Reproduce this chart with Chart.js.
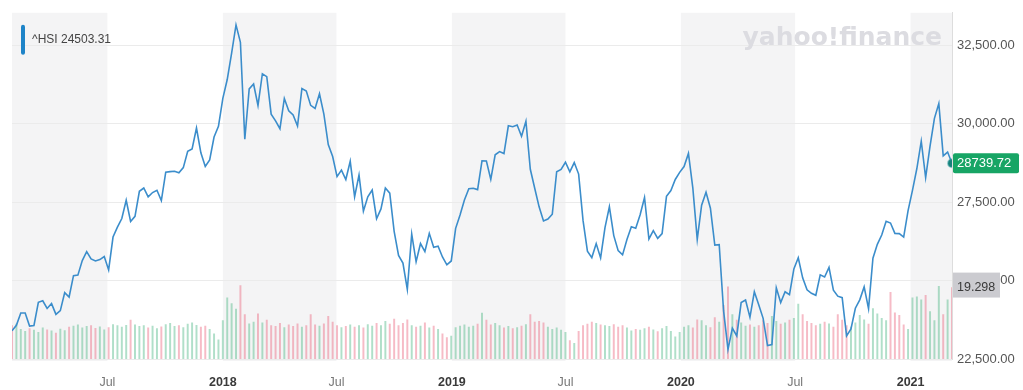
<!DOCTYPE html>
<html>
<head>
<meta charset="utf-8">
<script src="https://cdn.jsdelivr.net/npm/chart.js@4.4.1/dist/chart.umd.min.js"></script>
<style>
  html, body { margin: 0; padding: 0; background: #ffffff; }
  #wrap { width: 1023px; height: 390px; position: relative; }
</style>
</head>
<body>
<div id="wrap"><canvas id="c" width="1023" height="390"></canvas></div>
<script>
// ---- data (weekly, Monday-dated, Yahoo style) ----
const firstWeek = '2017-01-30';
const priorClose = 23600;

const close2017 = [23400, 23574, 23965, 23965, 23552, 23568, 24309, 24358, 24111, 24267,
  23924, 24042, 24615, 24476, 25156, 25174, 25639, 25924, 25690, 25626,
  25670, 25765, 25341, 26389, 26706, 26979, 27563, 26884, 27048, 27848,
  27953, 27668, 27808, 27880, 27554, 28458, 28476, 28487, 28439, 28603,
  29120, 29199, 29866, 29074, 28640, 28848, 29578, 29919];
const close2018 = [30814, 31412, 32254, 33154, 32601, 29507, 31115, 31268, 30583, 31596,
  31502, 30309, 30093, 29844, 30809, 30418, 30281, 29927, 31122, 31048,
  30588, 30492, 30958, 30309, 29339, 28955, 28316, 28525, 28224, 28804,
  27676, 28367, 27213, 27672, 27888, 26973, 27286, 27953, 27788, 26572,
  25801, 25561, 24717, 26486, 25601, 26183, 25927, 26506, 26063, 26094,
  25753, 25504];
const close2019 = [25626, 26667, 27090, 27569, 27930, 27946, 27901, 28816, 28812, 28228,
  29012, 29113, 29051, 29936, 29909, 29963, 29605, 30082, 28550, 27946,
  27353, 26901, 26965, 27118, 28473, 28543, 28775, 28471, 28765, 28397,
  26919, 25939, 25734, 26179, 25725, 26691, 27353, 26435, 25955, 25821,
  26308, 26720, 26667, 27100, 27651, 26327, 26595, 26346, 26498, 27688,
  27871, 28225];
const close2020 = [28452, 28638, 29056, 27950, 26313, 27404, 27815, 27309, 26130, 26146,
  24032, 22805, 23484, 23236, 24300, 24380, 23831, 24644, 24230, 23797,
  22930, 22961, 24770, 24301, 24644, 24549, 25373, 25727, 25089, 24705,
  24595, 24532, 25183, 25114, 25422, 24696, 24503, 24455, 23235, 23459,
  24119, 24387, 24800, 24107, 25712, 26157, 26452, 26894, 26836, 26506,
  26498, 26387, 27231];
const close2021 = [27878, 28574, 29447, 28284, 29289, 30173, 30645, 28980, 29099, 28739.72];

const vol2017 = [9.0, 9.4, 8.0, 7.5, 8.2, 7.8, 7.2, 8.4, 7.9, 7.6,
  7.0, 8.1, 7.7, 8.6, 8.9, 9.2, 8.4, 8.8, 9.0, 8.3,
  8.7, 7.9, 8.5, 9.3, 9.0, 8.6, 9.1, 10.5, 9.2, 8.8,
  9.0, 8.4, 8.9, 8.2, 8.7, 9.3, 9.6, 8.8, 9.0, 8.5,
  9.4, 9.8, 9.1, 8.6, 8.9, 8.0, 6.8, 5.2];
const vol2018 = [10.4, 16.5, 15.0, 13.5, 19.8, 12.0, 9.5, 10.0, 12.2, 9.8,
  10.5, 9.0, 8.8, 9.6, 8.5, 9.2, 8.8, 9.5, 8.6, 9.0,
  12.0, 9.2, 8.9, 9.5, 11.5, 10.0, 9.0, 8.5, 8.8, 9.2,
  8.6, 9.0, 8.4, 9.3, 8.9, 9.6, 9.0, 10.2, 9.4, 10.8,
  9.0, 9.6, 10.6, 9.0, 8.6, 8.9, 9.8, 8.4, 8.9, 8.0,
  6.8, 5.8];
const vol2019 = [6.2, 8.5, 8.9, 9.2, 8.6, 8.9, 9.4, 12.4, 10.5, 9.2,
  9.6, 9.0, 8.4, 8.8, 8.2, 8.5, 8.9, 9.3, 12.0, 10.0,
  10.2, 9.8, 8.6, 8.0, 8.4, 7.8, 7.2, 5.0, 4.2, 7.5,
  9.0, 9.4, 10.0, 9.6, 9.2, 9.0, 8.8, 9.3, 8.6, 9.0,
  8.4, 7.6, 8.0, 7.8, 8.2, 8.6, 7.9, 7.4, 8.2, 8.8,
  7.5, 6.0];
const vol2020 = [7.2, 8.6, 9.0, 8.4, 10.6, 10.4, 9.0, 8.5, 11.2, 10.0,
  14.5, 19.5, 12.0, 10.5, 9.8, 8.9, 9.2, 8.6, 9.0, 10.4,
  9.6, 11.5, 10.2, 9.4, 9.8, 10.5, 11.0, 14.8, 12.0, 10.2,
  9.6, 9.0, 9.4, 10.0, 9.5, 8.6, 12.0, 10.5, 9.0, 8.6,
  9.8, 11.8, 10.6, 9.4, 13.6, 12.2, 11.0, 10.4, 18.0, 12.5,
  11.8, 9.2, 8.0];
const vol2021 = [16.5, 16.8, 16.0, 17.2, 12.8, 10.4, 19.6, 12.0, 16.0, 19.298];

const yTicks = [22500, 25000, 27500, 30000, 32500];
const xTickDates = ['2017-07-01', '2018-01-01', '2018-07-01', '2019-01-01', '2019-07-01', '2020-01-01', '2020-07-01', '2021-01-01'];
const xTickLabels = ['Jul', '2018', 'Jul', '2019', 'Jul', '2020', 'Jul', '2021'];
const shadedFrom = ['2017-01-30', '2018-01-01', '2019-01-01', '2020-01-01', '2021-01-01'];
const shadedTo   = ['2017-07-01', '2018-07-01', '2019-07-01', '2020-07-01', '2021-03-08'];
const seriesName = '^HSI';
const legendValue = '24503.31';
const lastVolumeLabel = '19.298';
const watermark = 'yahoo!finance';

// ---- build ----
const day = s => Date.UTC(+s.slice(0, 4), +s.slice(5, 7) - 1, +s.slice(8, 10)) / 864e5;
const closes = [].concat(close2017, close2018, close2019, close2020, close2021);
const volumes = [].concat(vol2017, vol2018, vol2019, vol2020, vol2021);
const xs = closes.map((_, i) => day(firstWeek) + 7 * i);
const lineData = closes.map((v, i) => ({ x: xs[i], y: v }));
const volData = volumes.map((v, i) => ({ x: xs[i], y: v }));
const volColors = closes.map((v, i) => {
  const prev = i === 0 ? priorClose : closes[i - 1];
  return v >= prev ? 'rgba(80,185,135,0.45)' : 'rgba(236,105,128,0.45)';
});
const lastIdx = closes.length - 1;
const FONT = '"Liberation Sans", Arial, Helvetica, sans-serif';

function fmt2(v) {
  const parts = v.toFixed(2).split('.');
  parts[0] = parts[0].replace(/\B(?=(\d{3})+(?!\d))/g, ',');
  return parts.join('.');
}

const bandsPlugin = {
  id: 'bands',
  beforeDraw(chart) {
    const { ctx, chartArea } = chart;
    const xs_ = chart.scales.x;
    ctx.save();
    ctx.fillStyle = '#f4f4f5';
    for (let i = 0; i < shadedFrom.length; i++) {
      const a = Math.max(chartArea.left, xs_.getPixelForValue(day(shadedFrom[i])));
      const b = Math.min(chartArea.right, xs_.getPixelForValue(day(shadedTo[i])));
      ctx.fillRect(a, chartArea.top, b - a, chartArea.bottom - chartArea.top + 2);
    }
    ctx.restore();
  },
  beforeDatasetsDraw(chart) {
    const { ctx, chartArea } = chart;
    ctx.save();
    ctx.font = 'bold 25px "DejaVu Sans", sans-serif';
    ctx.fillStyle = '#dcdce1';
    ctx.textAlign = 'right';
    ctx.textBaseline = 'alphabetic';
    ctx.fillText(watermark, chartArea.right - 10, chartArea.top + 32);
    ctx.restore();
  }
};

const overlayPlugin = {
  id: 'overlay',
  afterDraw(chart) {
    const { ctx, chartArea } = chart;
    const y = chart.scales.y, yv = chart.scales.yVol;
    ctx.save();
    // legend
    ctx.fillStyle = '#1e84c8';
    ctx.beginPath();
    ctx.roundRect(chartArea.left + 9, chartArea.top + 12, 4, 30, 2);
    ctx.fill();
    ctx.fillStyle = '#444';
    ctx.font = '12px ' + FONT;
    ctx.textBaseline = 'middle';
    ctx.textAlign = 'left';
    ctx.fillText(seriesName + ' ' + legendValue, chartArea.left + 20, chartArea.top + 27);

    // volume label (covers most of the 25,000.00 tick label, as in the reference)
    const vy = yv.getPixelForValue(volumes[lastIdx]);
    const ty = y.getPixelForValue(25000);
    const boxTop = Math.min(vy - 10, ty - 8);
    ctx.fillStyle = '#cbcbd0';
    ctx.fillRect(chartArea.right + 1, boxTop, 47, vy + 10 - boxTop);
    ctx.fillStyle = '#3a3a3a';
    ctx.font = '12.5px ' + FONT;
    ctx.fillText(lastVolumeLabel, chartArea.right + 5, vy);

    // last price label
    const py = y.getPixelForValue(closes[lastIdx]);
    ctx.fillStyle = '#17a565';
    ctx.beginPath();
    ctx.roundRect(chartArea.right + 1, py - 10, 66, 20, 2);
    ctx.fill();
    ctx.fillStyle = '#ffffff';
    ctx.font = '13px ' + FONT;
    ctx.fillText(closes[lastIdx].toFixed(2), chartArea.right + 5, py);
    ctx.restore();
  }
};

new Chart(document.getElementById('c'), {
  type: 'line',
  data: {
    datasets: [
      {
        type: 'line',
        data: lineData,
        yAxisID: 'y',
        borderColor: '#3b8dcb',
        borderWidth: 1.6,
        tension: 0,
        pointRadius: c => (c.dataIndex === lastIdx ? 4 : 0),
        pointBackgroundColor: '#16807a',
        pointBorderColor: 'rgba(40,150,150,0.45)',
        pointBorderWidth: 2,
        fill: false,
        order: 0
      },
      {
        type: 'bar',
        data: volData,
        yAxisID: 'yVol',
        backgroundColor: volColors,
        barThickness: 1.3,
        order: 1
      }
    ]
  },
  options: {
    responsive: false,
    animation: false,
    layout: { padding: { left: 12, top: 10, right: 0, bottom: 0 } },
    plugins: { legend: { display: false }, tooltip: { enabled: false } },
    scales: {
      x: {
        type: 'linear',
        offset: false,
        min: xs[0],
        max: xs[lastIdx],
        grid: { display: false },
        border: { display: false },
        afterBuildTicks: s => { s.ticks = xTickDates.map(d => ({ value: day(d) })); },
        afterFit: s => { s.height = 31; },
        ticks: {
          autoSkip: false,
          maxRotation: 0,
          padding: 8,
          callback: (v, i) => xTickLabels[i],
          font: c => ({ family: FONT, size: 12.5, weight: /^\d{4}$/.test(xTickLabels[c.index]) ? 'bold' : 'normal' }),
          color: c => (/^\d{4}$/.test(xTickLabels[c.index]) ? '#3a3a3a' : '#777777')
        }
      },
      y: {
        type: 'linear',
        position: 'right',
        min: 22500,
        max: 33540,
        afterBuildTicks: s => { s.ticks = yTicks.map(v => ({ value: v })); },
        afterFit: s => { s.width = 71; },
        grid: { color: '#ebebeb', drawTicks: false },
        border: { display: true, color: '#dddddd' },
        ticks: {
          padding: 5,
          callback: v => fmt2(v),
          font: { family: FONT, size: 13 },
          color: '#555555'
        }
      },
      yVol: {
        type: 'linear',
        display: false,
        min: 0,
        max: 93.5
      }
    }
  },
  plugins: [bandsPlugin, overlayPlugin]
});
</script>
</body>
</html>
